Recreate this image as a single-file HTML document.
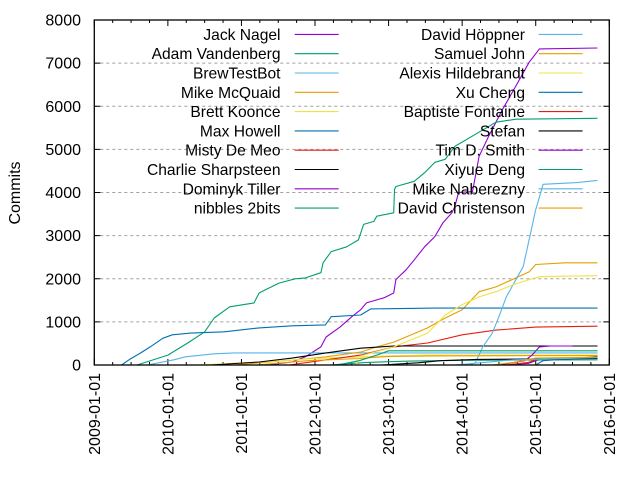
<!DOCTYPE html>
<html><head><meta charset="utf-8"><style>
html,body{margin:0;padding:0;background:#fff;width:640px;height:480px;overflow:hidden}
svg{font-family:"Liberation Sans",Arial,sans-serif}
</style></head><body>
<svg id="chart" width="640" height="480" viewBox="0 0 640 480" xmlns="http://www.w3.org/2000/svg"></svg>
<script>
const yTicks = [0,1000,2000,3000,4000,5000,6000,7000,8000];
const xTickYears = [2009,2010,2011,2012,2013,2014,2015,2016];
const xTickLabels = ["2009-01-01","2010-01-01","2011-01-01","2012-01-01","2013-01-01","2014-01-01","2015-01-01","2016-01-01"];
const seriesNames = ["Jack Nagel","Adam Vandenberg","BrewTestBot","Mike McQuaid","Brett Koonce","Max Howell","Misty De Meo","Charlie Sharpsteen","Dominyk Tiller","nibbles 2bits","David Höppner","Samuel John","Alexis Hildebrandt","Xu Cheng","Baptiste Fontaine","Stefan","Tim D. Smith","Xiyue Deng","Mike Naberezny","David Christenson"];
const seriesColors = ["#9400d3","#009e73","#56b4e9","#e69f00","#f0e442","#0072b2","#e51e10","#000000","#9400d3","#009e73","#56b4e9","#e69f00","#f0e442","#0072b2","#e51e10","#000000","#9400d3","#009e73","#56b4e9","#e69f00"];
// each series: [year, commits] points
const sJackNagel = [[2011.35,0],[2011.69,70],[2011.87,190],[2012.08,420],[2012.15,650],[2012.34,880],[2012.5,1120],[2012.62,1280],[2012.7,1440],[2012.94,1560],[2013.07,1670],[2013.1,1980],[2013.24,2210],[2013.35,2440],[2013.49,2740],[2013.63,2980],[2013.74,3300],[2013.86,3530],[2013.9,3670],[2013.95,4000],[2014.14,4020],[2014.23,4840],[2014.36,5300],[2014.55,5930],[2014.73,6470],[2014.91,7020],[2015.05,7330],[2015.84,7350]];
const sAdam = [[2009.58,0],[2010.0,230],[2010.27,510],[2010.5,770],[2010.63,1090],[2010.84,1350],[2011.17,1440],[2011.24,1670],[2011.32,1740],[2011.51,1900],[2011.73,2000],[2011.87,2020],[2012.08,2140],[2012.11,2370],[2012.22,2630],[2012.43,2740],[2012.59,2900],[2012.66,3260],[2012.8,3330],[2012.84,3450],[2013.07,3530],[2013.08,4070],[2013.1,4140],[2013.35,4260],[2013.49,4460],[2013.63,4700],[2013.77,4770],[2013.9,5070],[2014.18,5350],[2014.46,5630],[2014.73,5700],[2015.84,5720]];
const sBrewTestBot = [[2009.72,0],[2010.08,120],[2010.24,190],[2010.63,260],[2010.9,280],[2015.84,280]];
const sMcQuaid = [[2010.9,0],[2011.3,60],[2011.8,130],[2012.15,190],[2012.62,300],[2012.84,420],[2013.07,530],[2013.31,700],[2013.53,860],[2013.77,1090],[2014.0,1280],[2014.23,1700],[2014.46,1810],[2014.73,2020],[2014.91,2160],[2015.0,2330],[2015.4,2370],[2015.84,2370]];
const sKoonce = [[2010.4,0],[2010.9,40],[2011.4,80],[2011.9,140],[2012.3,170],[2012.8,200],[2013.5,230],[2015.84,230]];
const sHowell = [[2009.37,0],[2009.48,130],[2009.62,270],[2009.76,420],[2009.93,620],[2010.06,700],[2010.31,740],[2010.77,770],[2011.24,860],[2011.69,910],[2012.14,930],[2012.22,1120],[2012.62,1160],[2012.76,1300],[2013.63,1320],[2015.84,1320]];
const sMisty = [[2011.65,0],[2012.15,120],[2012.62,230],[2013.07,420],[2013.53,510],[2014.0,700],[2014.46,810],[2015.0,880],[2015.84,900]];
const sCharlie = [[2010.59,0],[2011.24,70],[2011.69,160],[2012.15,280],[2012.62,390],[2013.07,440],[2015.84,440]];
const sDominyk = [[2014.6,0],[2014.9,40],[2015.0,100],[2015.1,140],[2015.84,150]];
const sNibbles = [[2012.2,0],[2012.7,60],[2013.3,90],[2014.0,110],[2015.84,120]];
const sHoppner = [[2014.1,0],[2014.18,50],[2014.28,420],[2014.41,740],[2014.5,1120],[2014.6,1580],[2014.73,1980],[2014.83,2280],[2014.91,2900],[2015.0,3600],[2015.1,4190],[2015.56,4230],[2015.84,4280]];
const sSamuel = [[2011.2,0],[2011.9,100],[2012.6,150],[2013.0,200],[2013.6,210],[2015.84,220]];
const sAlexis = [[2012.56,0],[2012.58,190],[2013.07,420],[2013.53,740],[2013.77,1160],[2014.0,1400],[2014.23,1580],[2014.46,1700],[2014.69,1860],[2014.91,1980],[2015.05,2050],[2015.84,2070]];
const sXuCheng = [[2015.0,0],[2015.1,100],[2015.5,150],[2015.84,200]];
const sBaptiste = [[2014.6,0],[2014.9,60],[2015.05,150],[2015.84,160]];
const sStefan = [[2012.9,0],[2013.4,50],[2013.7,100],[2014.2,130],[2015.84,150]];
const sTim = [[2014.5,0],[2014.85,100],[2014.95,230],[2015.05,420],[2015.2,440],[2015.5,440]];
const sXiyue = [[2012.3,0],[2012.6,100],[2012.84,230],[2013.0,330],[2015.84,330]];
const sNaberezny = [[2013.9,0],[2014.3,60],[2014.7,120],[2015.84,170]];
const sChristenson = [[2014.4,0],[2014.7,60],[2015.0,160],[2015.84,180]];
const seriesData = [sJackNagel,sAdam,sBrewTestBot,sMcQuaid,sKoonce,sHowell,sMisty,sCharlie,sDominyk,sNibbles,sHoppner,sSamuel,sAlexis,sXuCheng,sBaptiste,sStefan,sTim,sXiyue,sNaberezny,sChristenson];

const NS="http://www.w3.org/2000/svg";
const svg=document.getElementById('chart');
const L=94.3,R=609.3,T=20,B=365;
const xS=y=>L+(y-2009)/(2016-2009)*(R-L);
const yS=v=>B-v/8000*(B-T);
function mk(tag,attrs,parent){const e=document.createElementNS(NS,tag);for(const k in attrs)e.setAttribute(k,attrs[k]);(parent||svg).appendChild(e);return e;}

yTicks.forEach(v=>{
  if(v>0&&v<8000){const g=mk('line',{x1:L,x2:R,y1:yS(v),y2:yS(v),stroke:'#a0a0a0','stroke-width':1,'stroke-dasharray':'3,3'});
  
  }
  const t1=mk('line',{x1:L,x2:L+6,y1:yS(v),y2:yS(v),stroke:'#000'});
  
  
  const t2=mk('line',{x1:R-6,x2:R,y1:yS(v),y2:yS(v),stroke:'#000'});
  
  
  const lb=mk('text',{x:81,y:yS(v)+5.5,'text-anchor':'end','font-size':16,fill:'#000'});
  lb.textContent=v;
  
  
});
for(let q=0;q<=28;q++){
  const yr=2009+q/4;const len=(q%4===0)?6:3;
  const a=mk('line',{x1:xS(yr),x2:xS(yr),y1:B,y2:B-len,stroke:'#000'});
  
  
  const b=mk('line',{x1:xS(yr),x2:xS(yr),y1:T,y2:T+len,stroke:'#000'});
  
  
}
xTickYears.forEach((yr,i)=>{
  const x=xS(yr)+5.5;
  const t=mk('text',{x:x,y:373,'text-anchor':'end','font-size':16,fill:'#000',transform:`rotate(-90 ${x} 373)`});
  t.textContent=xTickLabels[i];
  
  
});
const yt=mk('text',{x:20,y:193,'text-anchor':'middle','font-size':16,fill:'#000',transform:'rotate(-90 20 193)'});
yt.textContent='Commits';



seriesData.forEach((pts,i)=>{
  let d='M'+xS(pts[0][0]).toFixed(1)+','+yS(pts[0][1]).toFixed(1);
  for(let k=1;k<pts.length;k++){
    d+=' L'+xS(pts[k][0]).toFixed(1)+','+yS(pts[k][1]).toFixed(1);
  }
  const p=mk('path',{d:d,fill:'none',stroke:seriesColors[i],'stroke-width':1.1,'stroke-linejoin':'round'});
  
  
});

seriesNames.forEach((n,i)=>{
  const col=i<10?0:1,row=i%10;
  const yy=34.4+row*19.3;
  const tx=col?525:280.5, lx=col?538.6:294.7;
  const t=mk('text',{x:tx,y:yy+5.5,'text-anchor':'end','font-size':15.6,fill:'#000'});
  t.textContent=n;
  
  
  const l=mk('line',{x1:lx,x2:lx+44,y1:yy,y2:yy,stroke:seriesColors[i],'stroke-width':1.1});
  
  
});

const fr=mk('rect',{x:L,y:T,width:R-L,height:B-T,fill:'none',stroke:'#000','stroke-width':1.3});


</script>
</body></html>
